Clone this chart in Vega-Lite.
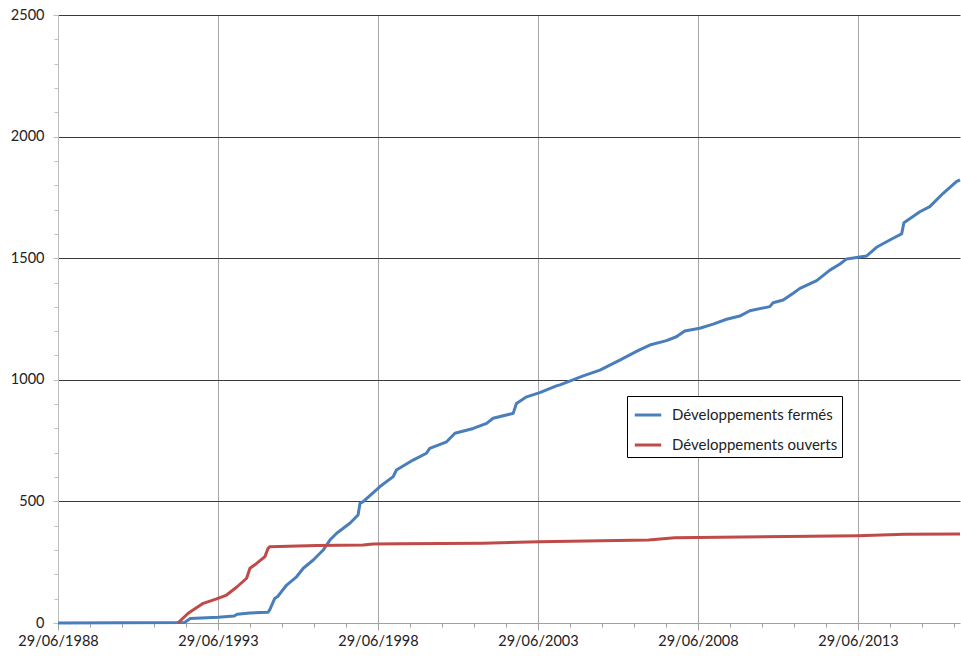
{
  "$schema": "https://vega.github.io/schema/vega-lite/v6.json",
  "autosize": "none",
  "width": 902,
  "height": 608,
  "padding": {"left": 58, "top": 15, "right": 1, "bottom": 34},
  "background": "white",
  "config": {"view": {"stroke": null}, "font": "Lato"},
  "data": {"values": [
    {"date": "1988-06-29", "value": 0, "serie": "Développements fermés"},
    {"date": "1992-06-13", "value": 2, "serie": "Développements fermés"},
    {"date": "1992-07-24", "value": 12, "serie": "Développements fermés"},
    {"date": "1992-08-13", "value": 18, "serie": "Développements fermés"},
    {"date": "1993-06-29", "value": 24, "serie": "Développements fermés"},
    {"date": "1994-01-01", "value": 29, "serie": "Développements fermés"},
    {"date": "1994-02-03", "value": 36, "serie": "Développements fermés"},
    {"date": "1994-06-29", "value": 41, "serie": "Développements fermés"},
    {"date": "1995-01-22", "value": 44, "serie": "Développements fermés"},
    {"date": "1995-02-11", "value": 55, "serie": "Développements fermés"},
    {"date": "1995-04-08", "value": 101, "serie": "Développements fermés"},
    {"date": "1995-05-15", "value": 110, "serie": "Développements fermés"},
    {"date": "1995-07-13", "value": 138, "serie": "Développements fermés"},
    {"date": "1995-08-22", "value": 156, "serie": "Développements fermés"},
    {"date": "1995-12-13", "value": 190, "serie": "Développements fermés"},
    {"date": "1996-02-28", "value": 225, "serie": "Développements fermés"},
    {"date": "1996-06-21", "value": 259, "serie": "Développements fermés"},
    {"date": "1996-10-12", "value": 300, "serie": "Développements fermés"},
    {"date": "1996-12-28", "value": 341, "serie": "Développements fermés"},
    {"date": "1997-03-15", "value": 369, "serie": "Développements fermés"},
    {"date": "1997-08-13", "value": 410, "serie": "Développements fermés"},
    {"date": "1997-11-14", "value": 444, "serie": "Développements fermés"},
    {"date": "1997-12-06", "value": 492, "serie": "Développements fermés"},
    {"date": "1998-01-12", "value": 499, "serie": "Développements fermés"},
    {"date": "1998-07-19", "value": 560, "serie": "Développements fermés"},
    {"date": "1998-12-20", "value": 602, "serie": "Développements fermés"},
    {"date": "1999-01-26", "value": 629, "serie": "Développements fermés"},
    {"date": "1999-08-04", "value": 670, "serie": "Développements fermés"},
    {"date": "2000-01-04", "value": 698, "serie": "Développements fermés"},
    {"date": "2000-02-10", "value": 718, "serie": "Développements fermés"},
    {"date": "2000-08-21", "value": 745, "serie": "Développements fermés"},
    {"date": "2000-11-24", "value": 780, "serie": "Développements fermés"},
    {"date": "2001-06-21", "value": 800, "serie": "Développements fermés"},
    {"date": "2001-11-21", "value": 821, "serie": "Développements fermés"},
    {"date": "2002-02-02", "value": 842, "serie": "Développements fermés"},
    {"date": "2002-09-20", "value": 862, "serie": "Développements fermés"},
    {"date": "2002-10-27", "value": 903, "serie": "Développements fermés"},
    {"date": "2003-02-20", "value": 930, "serie": "Développements fermés"},
    {"date": "2003-07-20", "value": 947, "serie": "Développements fermés"},
    {"date": "2004-01-26", "value": 975, "serie": "Développements fermés"},
    {"date": "2004-03-07", "value": 979, "serie": "Développements fermés"},
    {"date": "2004-11-27", "value": 1016, "serie": "Développements fermés"},
    {"date": "2005-06-06", "value": 1040, "serie": "Développements fermés"},
    {"date": "2006-01-19", "value": 1081, "serie": "Développements fermés"},
    {"date": "2006-08-14", "value": 1120, "serie": "Développements fermés"},
    {"date": "2006-12-27", "value": 1143, "serie": "Développements fermés"},
    {"date": "2007-07-05", "value": 1161, "serie": "Développements fermés"},
    {"date": "2007-10-27", "value": 1177, "serie": "Développements fermés"},
    {"date": "2008-01-30", "value": 1201, "serie": "Développements fermés"},
    {"date": "2008-07-19", "value": 1212, "serie": "Développements fermés"},
    {"date": "2008-12-20", "value": 1229, "serie": "Développements fermés"},
    {"date": "2009-05-22", "value": 1249, "serie": "Développements fermés"},
    {"date": "2009-10-19", "value": 1262, "serie": "Développements fermés"},
    {"date": "2010-02-11", "value": 1284, "serie": "Développements fermés"},
    {"date": "2010-09-27", "value": 1301, "serie": "Développements fermés"},
    {"date": "2010-11-03", "value": 1317, "serie": "Développements fermés"},
    {"date": "2011-02-27", "value": 1328, "serie": "Développements fermés"},
    {"date": "2011-06-21", "value": 1356, "serie": "Développements fermés"},
    {"date": "2011-09-06", "value": 1376, "serie": "Développements fermés"},
    {"date": "2012-03-15", "value": 1408, "serie": "Développements fermés"},
    {"date": "2012-08-13", "value": 1451, "serie": "Développements fermés"},
    {"date": "2012-12-06", "value": 1476, "serie": "Développements fermés"},
    {"date": "2013-02-20", "value": 1497, "serie": "Développements fermés"},
    {"date": "2013-10-05", "value": 1509, "serie": "Développements fermés"},
    {"date": "2014-01-27", "value": 1545, "serie": "Développements fermés"},
    {"date": "2014-08-04", "value": 1582, "serie": "Développements fermés"},
    {"date": "2014-11-10", "value": 1600, "serie": "Développements fermés"},
    {"date": "2014-12-06", "value": 1646, "serie": "Développements fermés"},
    {"date": "2015-06-06", "value": 1691, "serie": "Développements fermés"},
    {"date": "2015-09-27", "value": 1712, "serie": "Développements fermés"},
    {"date": "2016-02-27", "value": 1767, "serie": "Développements fermés"},
    {"date": "2016-07-27", "value": 1815, "serie": "Développements fermés"},
    {"date": "2016-09-06", "value": 1822, "serie": "Développements fermés"},
    {"date": "1992-03-28", "value": 0, "serie": "Développements ouverts"},
    {"date": "1992-07-24", "value": 40, "serie": "Développements ouverts"},
    {"date": "1993-01-12", "value": 81, "serie": "Développements ouverts"},
    {"date": "1993-06-13", "value": 99, "serie": "Développements ouverts"},
    {"date": "1993-10-05", "value": 115, "serie": "Développements ouverts"},
    {"date": "1994-01-27", "value": 147, "serie": "Développements ouverts"},
    {"date": "1994-05-22", "value": 184, "serie": "Développements ouverts"},
    {"date": "1994-06-29", "value": 225, "serie": "Développements ouverts"},
    {"date": "1994-09-13", "value": 245, "serie": "Développements ouverts"},
    {"date": "1994-12-17", "value": 273, "serie": "Développements ouverts"},
    {"date": "1995-01-22", "value": 307, "serie": "Développements ouverts"},
    {"date": "1995-02-11", "value": 314, "serie": "Développements ouverts"},
    {"date": "1996-07-27", "value": 319, "serie": "Développements ouverts"},
    {"date": "1998-01-12", "value": 321, "serie": "Développements ouverts"},
    {"date": "1998-05-05", "value": 325, "serie": "Développements ouverts"},
    {"date": "1999-03-07", "value": 326, "serie": "Développements ouverts"},
    {"date": "2001-10-08", "value": 328, "serie": "Développements ouverts"},
    {"date": "2003-07-13", "value": 334, "serie": "Développements ouverts"},
    {"date": "2006-12-13", "value": 341, "serie": "Développements ouverts"},
    {"date": "2007-10-08", "value": 351, "serie": "Développements ouverts"},
    {"date": "2013-06-29", "value": 359, "serie": "Développements ouverts"},
    {"date": "2014-12-13", "value": 365, "serie": "Développements ouverts"},
    {"date": "2016-09-06", "value": 366, "serie": "Développements ouverts"}
  ]},
  "mark": {"type": "line", "strokeWidth": 3, "strokeJoin": "round"},
  "encoding": {
    "x": {
      "field": "date", "type": "temporal",
      "scale": {"type": "utc", "domain": [{"year": 1988, "month": 6, "date": 29, "utc": true}, {"year": 2016, "month": 9, "date": 6, "utc": true}]},
      "axis": {
        "title": null,
        "values": [
          {"year": 1988, "month": 6, "date": 29, "utc": true},
          {"year": 1989, "month": 6, "date": 29, "utc": true},
          {"year": 1990, "month": 6, "date": 29, "utc": true},
          {"year": 1991, "month": 6, "date": 29, "utc": true},
          {"year": 1992, "month": 6, "date": 29, "utc": true},
          {"year": 1993, "month": 6, "date": 29, "utc": true},
          {"year": 1994, "month": 6, "date": 29, "utc": true},
          {"year": 1995, "month": 6, "date": 29, "utc": true},
          {"year": 1996, "month": 6, "date": 29, "utc": true},
          {"year": 1997, "month": 6, "date": 29, "utc": true},
          {"year": 1998, "month": 6, "date": 29, "utc": true},
          {"year": 1999, "month": 6, "date": 29, "utc": true},
          {"year": 2000, "month": 6, "date": 29, "utc": true},
          {"year": 2001, "month": 6, "date": 29, "utc": true},
          {"year": 2002, "month": 6, "date": 29, "utc": true},
          {"year": 2003, "month": 6, "date": 29, "utc": true},
          {"year": 2004, "month": 6, "date": 29, "utc": true},
          {"year": 2005, "month": 6, "date": 29, "utc": true},
          {"year": 2006, "month": 6, "date": 29, "utc": true},
          {"year": 2007, "month": 6, "date": 29, "utc": true},
          {"year": 2008, "month": 6, "date": 29, "utc": true},
          {"year": 2009, "month": 6, "date": 29, "utc": true},
          {"year": 2010, "month": 6, "date": 29, "utc": true},
          {"year": 2011, "month": 6, "date": 29, "utc": true},
          {"year": 2012, "month": 6, "date": 29, "utc": true},
          {"year": 2013, "month": 6, "date": 29, "utc": true},
          {"year": 2014, "month": 6, "date": 29, "utc": true},
          {"year": 2015, "month": 6, "date": 29, "utc": true},
          {"year": 2016, "month": 6, "date": 29, "utc": true}
        ],
        "labelExpr": "utcyear(datum.value) % 5 === 3 ? utcFormat(datum.value, '%d/%m/%Y') : ''",
        "labelFont": "Lato", "labelFontSize": 14.5, "labelColor": "#222222",
        "labelPadding": 4, "labelOverlap": false, "labelFlush": false,
        "domainColor": "#a0a0a0", "domainWidth": 1,
        "tickColor": "#a0a0a0",
        "tickSize": {"condition": {"test": "utcyear(datum.value) % 5 === 3", "value": 7}, "value": 4},
        "grid": true, "gridColor": "#a6a6a6", "gridWidth": 1,
        "gridOpacity": {"condition": {"test": "utcyear(datum.value) % 5 === 3 && utcyear(datum.value) > 1988", "value": 1}, "value": 0}
      }
    },
    "y": {
      "field": "value", "type": "quantitative",
      "scale": {"domain": [0, 2500], "nice": false},
      "axis": {
        "title": null,
        "values": [0,100,200,300,400,500,600,700,800,900,1000,1100,1200,1300,1400,1500,1600,1700,1800,1900,2000,2100,2200,2300,2400,2500],
        "format": "d",
        "labelExpr": "datum.value % 500 === 0 ? datum.label : ''",
        "labelFont": "Lato", "labelFontSize": 14.5, "labelColor": "#222222",
        "labelPadding": 9,
        "domainColor": "#bfbfbf", "domainWidth": 1,
        "tickColor": "#bfbfbf",
        "tickSize": {"condition": {"test": "datum.value % 500 === 0", "value": 5}, "value": 4},
        "grid": true, "gridColor": "#3a3a3a", "gridWidth": 1,
        "gridOpacity": {"condition": {"test": "datum.value % 500 === 0 && datum.value > 0", "value": 1}, "value": 0}
      }
    },
    "color": {
      "field": "serie", "type": "nominal",
      "scale": {"domain": ["Développements fermés", "Développements ouverts"], "range": ["#4a7ebb", "#be4b48"]},
      "legend": {
        "title": null, "orient": "none", "legendX": 569, "legendY": 381,
        "direction": "vertical",
        "strokeColor": "#000000", "fillColor": "#ffffff",
        "padding": 4, "rowPadding": 7,
        "symbolType": "stroke", "symbolStrokeWidth": 3, "symbolSize": 700, "symbolOffset": 2,
        "labelFont": "Lato", "labelFontSize": 15, "labelColor": "#222222", "labelOffset": 9, "labelLimit": 400
      }
    }
  }
}
